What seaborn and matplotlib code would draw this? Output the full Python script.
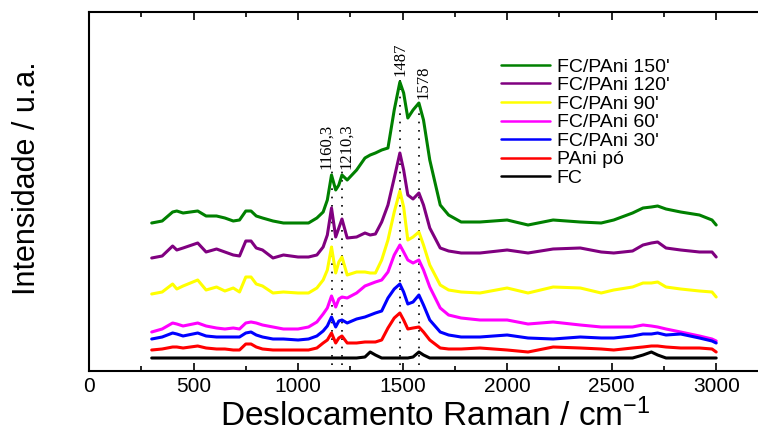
import numpy as np
import pandas as pd
import matplotlib
matplotlib.use("Agg")
import matplotlib.pyplot as plt
from matplotlib import font_manager
from matplotlib.ticker import MultipleLocator
import seaborn as sns

# ---------------- data ----------------
shift = [300, 350, 400, 420, 450, 520, 560, 610, 650, 690, 720, 750, 775, 800, 830,
         880, 930, 1000, 1050, 1090, 1120, 1140, 1160, 1180, 1195, 1210, 1235, 1280,
         1320, 1345, 1370, 1400, 1430, 1460, 1487, 1505, 1525, 1550, 1578, 1600, 1630,
         1680, 1720, 1780, 1870, 2000, 2100, 2220, 2350, 2450, 2510, 2600, 2650, 2690,
         2720, 2760, 2830, 2920, 2980, 3000]

fc_pani_150 = [147, 149, 158, 159, 157, 159, 154, 154, 152, 149, 150, 159, 159, 154, 152,
               149, 147, 147, 147, 152, 158, 170, 195, 180, 185, 195, 190, 200,
               212, 215, 217, 220, 222, 260, 288, 277, 252, 260, 267, 250, 210,
               165, 155, 148, 148, 150, 145, 150, 148, 147, 150, 157, 162, 163,
               164, 161, 158, 155, 150, 145]
fc_pani_120 = [112, 114, 124, 120, 122, 127, 118, 121, 118, 115, 114, 129, 129, 122, 120,
               112, 115, 113, 113, 115, 123, 135, 162, 133, 142, 151, 132, 133,
               137, 135, 136, 148, 165, 192, 217, 200, 175, 171, 177, 165, 142,
               122, 119, 117, 117, 120, 117, 121, 122, 118, 117, 119, 125, 127,
               128, 122, 120, 118, 118, 113]
fc_pani_90 = [76, 78, 86, 81, 84, 90, 80, 83, 79, 82, 78, 93, 93, 86, 84,
              77, 78, 77, 77, 82, 90, 100, 123, 97, 108, 113, 95, 98,
              98, 97, 97, 110, 130, 158, 179, 163, 130, 133, 138, 125, 105,
              85, 80, 78, 77, 82, 77, 83, 82, 77, 80, 83, 87, 87,
              88, 83, 81, 79, 78, 73]
fc_pani_60 = [38, 41, 47, 46, 44, 47, 44, 42, 41, 42, 41, 47, 48, 47, 45,
              43, 41, 41, 43, 48, 56, 62, 74, 63, 71, 73, 72, 77,
              84, 86, 88, 90, 98, 115, 125, 118, 110, 107, 110, 100, 83,
              62, 55, 52, 50, 50, 46, 48, 45, 43, 43, 43, 45, 44,
              43, 41, 38, 34, 31, 29]
fc_pani_30 = [31, 33, 37, 36, 34, 37, 34, 33, 33, 33, 33, 37, 38, 35, 33,
              31, 31, 30, 31, 34, 39, 44, 53, 43, 49, 50, 47, 51,
              53, 55, 57, 59, 72, 81, 86, 78, 66, 68, 75, 65, 50,
              38, 35, 33, 33, 35, 32, 31, 33, 32, 32, 34, 36, 36,
              37, 35, 36, 32, 29, 27]
pani_po = [20, 21, 23, 23, 22, 24, 22, 21, 21, 20, 20, 26, 26, 23, 21,
           20, 20, 20, 20, 22, 27, 30, 37, 27, 32, 34, 27, 27,
           28, 28, 28, 30, 42, 52, 57, 50, 41, 42, 43, 38, 30,
           22, 21, 21, 22, 20, 18, 23, 22, 21, 20, 22, 23, 24,
           24, 23, 22, 22, 21, 18]
fc = [12, 12, 12, 12, 12, 12, 12, 12, 12, 12, 12, 12, 12, 12, 12,
      12, 12, 12, 12, 12, 12, 12, 12, 12, 12, 12, 12, 12,
      13, 18, 15, 12, 12, 12, 12, 12, 12, 13, 18, 15, 12,
      12, 12, 12, 12, 12, 12, 12, 12, 12, 12, 12, 15, 18,
      15, 12, 12, 12, 12, 12]

series_names = ["FC/PAni 150'", "FC/PAni 120'", "FC/PAni 90'", "FC/PAni 60'",
                "FC/PAni 30'", "PAni pó", "FC"]
series_values = [fc_pani_150, fc_pani_120, fc_pani_90, fc_pani_60,
                 fc_pani_30, pani_po, fc]
series_colors = ["#008000", "#800080", "#ffff00", "#ff00ff", "#0000ff", "#ff0000", "#000000"]

peak_positions = [1160, 1210, 1487, 1578]
peak_labels = ["1160,3", "1210,3", "1487", "1578"]
peak_line_top = [200, 200, 290, 270]
peak_label_x = [1136, 1230, 1488, 1598]
peak_label_y = [224, 224, 311, 288]

x_ticks = [0, 500, 1000, 1500, 2000, 2500, 3000]

# ---------------- styling ----------------
sns.set_style("ticks")
plt.rcParams["font.family"] = ["Liberation Sans", "DejaVu Sans"]
plt.rcParams["mathtext.default"] = "regular"
plt.rcParams["text.color"] = "black"
plt.rcParams["axes.labelcolor"] = "black"
plt.rcParams["xtick.color"] = "black"
plt.rcParams["ytick.color"] = "black"
plt.rcParams["axes.edgecolor"] = "black"

names = {f.name for f in font_manager.fontManager.ttflist}
if "Liberation Sans Narrow" in names:
    ylab_family, ylab_size = ["Liberation Sans Narrow", "Liberation Sans"], 26
else:
    ylab_family, ylab_size = ["Liberation Sans", "DejaVu Sans"], 22

df = pd.concat([
    pd.DataFrame({"shift": shift, "intensity": vals, "sample": name})
    for name, vals in zip(series_names, series_values)
], ignore_index=True)

fig = plt.figure(figsize=(7.58, 4.34), dpi=100)
ax = fig.add_axes([89 / 758, 1 - 371 / 434, 669 / 758, 359 / 434])

# dotted peak markers (beneath curves)
ax.vlines(peak_positions, 5, peak_line_top, colors="black",
          linestyles=(0, (1, 4)), linewidth=1.2, zorder=1)

sns.lineplot(data=df, x="shift", y="intensity", hue="sample",
             hue_order=series_names, palette=series_colors, sort=False,
             estimator=None, linewidth=2.2, ax=ax, zorder=2)

for px, lab, lx, ly in zip(peak_positions, peak_labels, peak_label_x, peak_label_y):
    ax.text(lx, ly, lab, rotation=90, ha="center", va="center",
            family=["Liberation Serif", "DejaVu Serif"], fontsize=12)

ax.set_xlim(0, 3200)
ax.set_ylim(-1, 358)
ax.set_yticks([])
ax.set_xticks(x_ticks)
ax.set_xticklabels([str(t) for t in x_ticks])
ax.xaxis.set_minor_locator(MultipleLocator(250))
ax.tick_params(axis="x", which="both", direction="in", top=True, bottom=True,
               labelsize=15, pad=4.5, width=1.2)
ax.tick_params(axis="x", which="major", length=6)
ax.tick_params(axis="x", which="minor", length=3.5)
ax.spines["right"].set_visible(False)
for s in ["left", "bottom", "top"]:
    ax.spines[s].set_linewidth(1.5)
    ax.spines[s].set_color("black")

ax.set_xlabel("Deslocamento Raman / cm$^{-1}$", fontsize=24)
ax.xaxis.set_label_coords(0.517, -0.1532)
ax.xaxis.label.set_va("baseline")
ax.set_ylabel("Intensidade / u.a.", fontsize=ylab_size, family=ylab_family)
ax.yaxis.set_label_coords(-0.093, 0.538)
ax.yaxis.label.set_va("center")

handles, labels = ax.get_legend_handles_labels()
leg = ax.legend(handles, labels, loc="upper left", bbox_to_anchor=(0.616, 0.872),
                frameon=False, fontsize=14, handlelength=2.5, handletextpad=0.35,
                labelspacing=0.05, borderpad=0, borderaxespad=0)
for h in leg.get_lines():
    h.set_linewidth(1.8)

fig.savefig("out.png", dpi=100)
